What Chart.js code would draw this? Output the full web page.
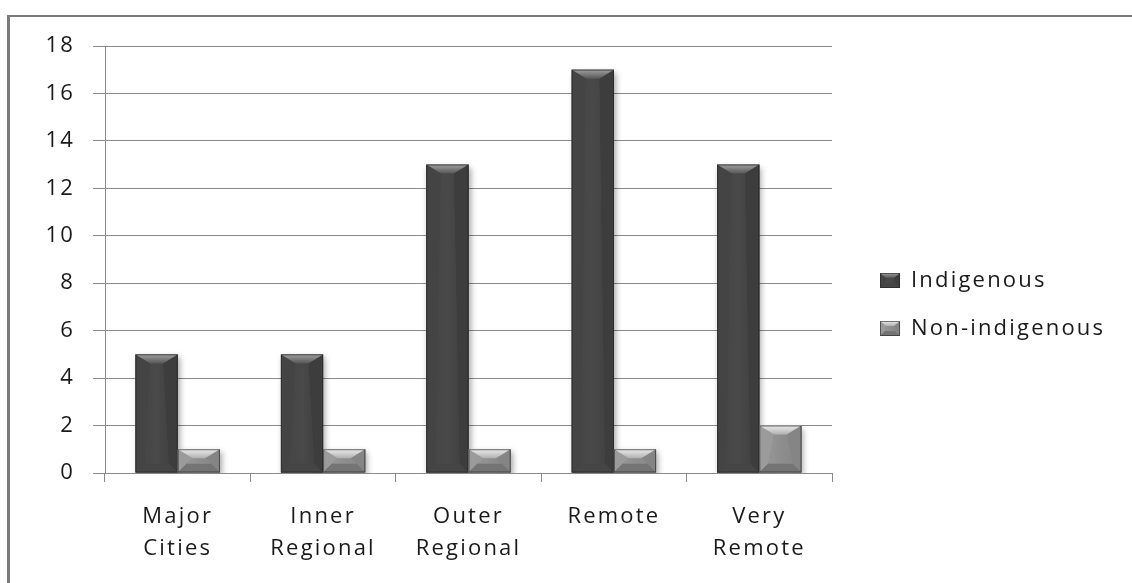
<!DOCTYPE html>
<html>
<head>
<meta charset="utf-8">
<title>Indigenous vs Non-indigenous by remoteness</title>
<script src="https://cdn.jsdelivr.net/npm/chart.js@4.4.1/dist/chart.umd.min.js"></script>
<style>
  html, body { margin: 0; padding: 0; background: #fff; }
  body { width: 1132px; height: 583px; overflow: hidden; position: relative; }
  #frame {
    position: absolute; left: 7px; top: 15px; width: 1300px; height: 800px;
    border-left: 3px solid #7b7b7b; border-top: 2px solid #7b7b7b;
  }
  #wrap { position: absolute; left: 0; top: 0; width: 1132px; height: 583px; }
</style>
</head>
<body>
<div id="frame"></div>
<div id="wrap"><canvas id="chart"></canvas></div>
<script>
// data
const categories = [['Major', 'Cities'], ['Inner', 'Regional'], ['Outer', 'Regional'], ['Remote'], ['Very', 'Remote']];
const seriesNames = ['Indigenous', 'Non-indigenous'];
const indigenous = [5, 5, 13, 17, 13];
const nonIndigenous = [1, 1, 1, 1, 2];
const yTicks = [0, 2, 4, 6, 8, 10, 12, 14, 16, 18];

const FONT = { family: '"Open Sans", "DejaVu Sans", sans-serif', size: 22 };
const SPACING = '2.2px';      // old chart text is wide, stretch it a bit
const GRID = '#8a8a8a';
const TEXT = '#1a1a1a';

// bevel shades for the two series
const shades = [
  { base: '#494949', edge: '#343434', top: ['#a0a0a0', '#565656'], left: '#444444', right: '#3d3d3d', bottom: '#454545' },
  { base: '#8e8e8e', edge: '#727272', top: ['#ececec', '#b0b0b0'], left: '#9b9b9b', right: '#858585', bottom: '#747474' }
];

function poly(ctx, pts, fill) {
  ctx.beginPath();
  ctx.moveTo(pts[0][0], pts[0][1]);
  for (let i = 1; i < pts.length; i++) ctx.lineTo(pts[i][0], pts[i][1]);
  ctx.closePath();
  ctx.fillStyle = fill;
  ctx.fill();
}

function bevel(ctx, l, t, r, b, s, sx, sy) {
  const w = r - l, h = b - t;
  const kx = Math.min(sx, w * 0.35), ky = Math.min(sy, h * 0.45);
  const g = ctx.createLinearGradient(l, 0, r, 0);
  g.addColorStop(0, s.edge);
  g.addColorStop(0.3, s.base);
  g.addColorStop(0.7, s.base);
  g.addColorStop(1, s.edge);
  ctx.fillStyle = g;
  ctx.fillRect(l, t, w, h);
  const side = Math.min(ky, kx);
  poly(ctx, [[l, t], [l + kx, t + ky], [l + side, b - side], [l, b]], s.left);
  poly(ctx, [[r, t], [r - kx, t + ky], [r - side, b - side], [r, b]], s.right);
  poly(ctx, [[l, b], [l + side, b - side], [r - side, b - side], [r, b]], s.bottom);
  // fill the middle back in so the sides stay thin wedges
  const mg = ctx.createLinearGradient(l, 0, r, 0);
  mg.addColorStop(0, s.left);
  mg.addColorStop(0.5, s.base);
  mg.addColorStop(1, s.right);
  poly(ctx, [[l + kx, t + ky], [r - kx, t + ky], [r - side, b - side], [l + side, b - side]], mg);
  const tg = ctx.createLinearGradient(0, t, 0, t + ky);
  tg.addColorStop(0, s.top[0]);
  tg.addColorStop(1, s.top[1]);
  poly(ctx, [[l, t], [r, t], [r - kx, t + ky], [l + kx, t + ky]], tg);
  ctx.strokeStyle = 'rgba(35,35,35,0.6)';
  ctx.lineWidth = 1;
  ctx.strokeRect(l + 0.5, t + 0.5, w - 1, h - 1);
}

const stylePlugin = {
  id: 'oldExcelLook',
  beforeUpdate(chart) { chart.ctx.letterSpacing = SPACING; },
  beforeRender(chart) { chart.ctx.letterSpacing = SPACING; },
  afterLayout(chart) {
    // legend sits a little way off the plot in the original
    const lg = chart.legend;
    lg.left += 22; lg.right += 22;
    lg.top -= 10; lg.bottom -= 10;
  },
  beforeDatasetsDraw(chart) {
    const ctx = chart.ctx;
    ctx.save();
    ctx.shadowColor = 'rgba(0,0,0,0.35)';
    ctx.shadowBlur = 6;
    ctx.shadowOffsetX = 2;
    ctx.shadowOffsetY = 3;
  },
  afterDatasetsDraw(chart) {
    const ctx = chart.ctx;
    ctx.restore();
    chart.data.datasets.forEach((ds, di) => {
      chart.getDatasetMeta(di).data.forEach(bar => {
        const l = bar.x - bar.width / 2, r = bar.x + bar.width / 2;
        bevel(ctx, l, bar.y, r, bar.base, shades[di], 15, 9);
      });
    });
  },
  afterDraw(chart) {
    const lg = chart.legend;
    if (!lg || !lg.legendHitBoxes) return;
    const bw = lg.options.labels.boxWidth, bh = lg.options.labels.boxHeight;
    lg.legendHitBoxes.forEach((hb, i) => {
      const t = hb.top + (hb.height - bh) / 2;
      bevel(chart.ctx, hb.left, t, hb.left + bw, t + bh, shades[i], 6, 5);
    });
  }
};

new Chart(document.getElementById('chart'), {
  type: 'bar',
  data: {
    labels: categories,
    datasets: [
      { label: seriesNames[0], data: indigenous, backgroundColor: shades[0].base, borderWidth: 0 },
      { label: seriesNames[1], data: nonIndigenous, backgroundColor: shades[1].base, borderWidth: 0 }
    ]
  },
  options: {
    responsive: true,
    maintainAspectRatio: false,
    animation: false,
    layout: { padding: { top: 46, left: 0, right: 0, bottom: 0 } },
    datasets: { bar: { categoryPercentage: 0.58, barPercentage: 1.0 } },
    scales: {
      x: {
        grid: { display: true, offset: true, drawOnChartArea: false, color: GRID, tickLength: 9 },
        border: { display: true, color: GRID },
        ticks: { color: TEXT, font: { ...FONT, lineHeight: 1.45 }, padding: 19, maxRotation: 0, autoSkip: false },
        afterFit(scale) {
          scale.height = 110;
          scale.paddingRight = 300;   // keeps the plot clear of the legend
        }
      },
      y: {
        min: 0,
        max: 18,
        afterBuildTicks(scale) { scale.ticks = yTicks.map(v => ({ value: v })); },
        grid: { color: GRID, tickLength: 12 },
        border: { display: true, color: GRID },
        ticks: { color: TEXT, font: FONT, padding: 18 },
        afterFit(scale) { scale.width = 105; }
      }
    },
    plugins: {
      legend: {
        position: 'right',
        align: 'center',
        labels: {
          color: TEXT,
          font: FONT,
          boxWidth: 20,
          boxHeight: 15,
          padding: 26
        }
      },
      tooltip: { enabled: false }
    }
  },
  plugins: [stylePlugin]
});
</script>
</body>
</html>
